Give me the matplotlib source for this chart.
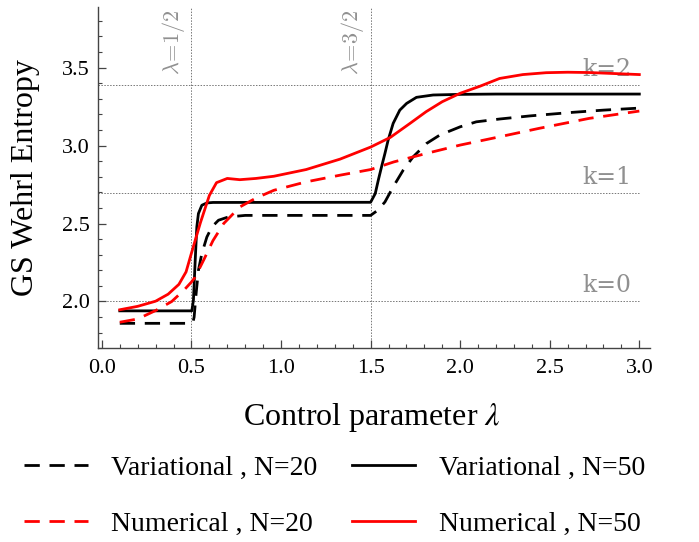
import matplotlib
matplotlib.use("Agg")
import matplotlib.pyplot as plt
from matplotlib.ticker import MultipleLocator

plt.rcParams['font.family'] = ['Liberation Serif', 'DejaVu Serif']
plt.rcParams['mathtext.fontset'] = 'stix'

# variational, N=50 (black solid)
var50_x = [0.1, 0.502, 0.511, 0.521, 0.530, 0.539, 0.558, 0.586, 0.62, 1.5, 1.526, 1.543,
           1.561, 1.58, 1.598, 1.626, 1.663, 1.701, 1.756, 1.849, 2.0, 2.2, 3.0]
var50_y = [1.94, 1.94, 2.006, 2.263, 2.478, 2.564, 2.617, 2.632, 2.635, 2.636, 2.692, 2.778,
           2.863, 2.949, 3.035, 3.142, 3.227, 3.27, 3.309, 3.324, 3.328, 3.33, 3.33]

# variational, N=20 (black dashed)
var20_x = [0.1, 0.5, 0.51, 0.515, 0.526, 0.539, 0.558, 0.586, 0.614, 0.651, 0.706, 0.8, 1.5,
           1.54, 1.58, 1.626, 1.682, 1.737, 1.812, 1.886, 2.0, 2.09, 2.22, 2.39, 2.63, 2.8, 3.0]
var20_y = [1.86, 1.86, 1.875, 1.9, 2.05, 2.2, 2.307, 2.413, 2.478, 2.521, 2.542, 2.552, 2.552,
           2.585, 2.638, 2.735, 2.842, 2.927, 3.013, 3.067, 3.12, 3.152, 3.17, 3.19, 3.213, 3.227, 3.24]

# numerical, N=50 (red solid)
num50_x = [0.1, 0.2, 0.3, 0.37, 0.43, 0.47, 0.5, 0.55, 0.6, 0.64, 0.7, 0.77, 0.86, 0.96, 1.14,
           1.33, 1.5, 1.61, 1.72, 1.81, 1.9, 2.0, 2.11, 2.22, 2.35, 2.48, 2.6, 2.72, 2.85, 3.0]
num50_y = [1.947, 1.969, 2.002, 2.047, 2.11, 2.19, 2.31, 2.505, 2.68, 2.762, 2.789, 2.781, 2.789,
           2.803, 2.846, 2.913, 2.99, 3.052, 3.142, 3.217, 3.281, 3.335, 3.38, 3.43, 3.455, 3.467,
           3.47, 3.468, 3.462, 3.455]

# numerical, N=20 (red dashed)
num20_x = [0.1, 0.2, 0.3, 0.39, 0.46, 0.5, 0.52, 0.57, 0.62, 0.68, 0.77, 0.86, 0.96, 1.14, 1.33,
           1.5, 1.63, 1.81, 2.0, 2.22, 2.44, 2.72, 3.0]
num20_y = [1.867, 1.888, 1.942, 2.0, 2.075, 2.125, 2.155, 2.27, 2.39, 2.5, 2.606, 2.663, 2.713,
           2.767, 2.81, 2.846, 2.895, 2.949, 3.003, 3.056, 3.11, 3.174, 3.221]

k_levels = [2.0, 2.693, 3.386]
k_labels = ['k=0', 'k=1', 'k=2']
crit_x = [0.5, 1.5]
crit_labels = [r'$\lambda\!=\!1/2$', r'$\lambda\!=\!3/2$']

fig = plt.figure(figsize=(6.99, 5.42), dpi=100)
ax = fig.add_axes([0.1406, 0.3574, 0.7894, 0.6302])

dash = (0, (5.5, 3.5))
grid_kw = dict(color='#777777', lw=0.7, ls=(0, (1.5, 1.5)), zorder=1)
for yk, lab in zip(k_levels, k_labels):
    ax.plot([-0.02, 3.0], [yk, yk], **grid_kw)
    ax.text(2.82, yk + 0.03, lab, color='#909090', fontsize=17, ha='center', va='bottom',
            family='DejaVu Serif', zorder=2)
for xc, lab in zip(crit_x, crit_labels):
    ax.axvline(xc, **grid_kw)
    ax.text(xc - 0.025, 3.875, lab, color='#909090', fontsize=16, rotation=90,
            ha='right', va='top', math_fontfamily='cm', zorder=2)

l1, = ax.plot(var20_x, var20_y, color='black', lw=2.0, ls=dash, label='Variational , N=20', zorder=3)
l2, = ax.plot(var50_x, var50_y, color='black', lw=2.0, label='Variational , N=50', zorder=3)
l3, = ax.plot(num20_x, num20_y, color='#ff0000', lw=2.0, ls=dash, label='Numerical , N=20', zorder=4)
l4, = ax.plot(num50_x, num50_y, color='#ff0000', lw=2.0, label='Numerical , N=50', zorder=4)

ax.set_xlim(-0.02, 3.06)
ax.set_ylim(1.7, 3.89)
ax.spines['top'].set_visible(False)
ax.spines['right'].set_visible(False)
for s in ['left', 'bottom']:
    ax.spines[s].set_color('#444444')
    ax.spines[s].set_linewidth(1.0)

ax.xaxis.set_minor_locator(MultipleLocator(0.1))
ax.yaxis.set_minor_locator(MultipleLocator(0.1))
ax.set_xticks([0.0, 0.5, 1.0, 1.5, 2.0, 2.5, 3.0])
ax.set_yticks([2.0, 2.5, 3.0, 3.5])
ax.tick_params(which='both', direction='in', color='#444444', labelsize=16)
ax.tick_params(which='major', length=5.5, width=0.9)
ax.tick_params(which='minor', length=3, width=0.8)
ax.tick_params(axis='x', pad=8)
ax.tick_params(axis='y', pad=6)

ax.set_xlabel(r'Control parameter $\lambda$', fontsize=23)
ax.set_ylabel('GS Wehrl Entropy', fontsize=23)
ax.xaxis.set_label_coords(0.496, -0.155)
ax.yaxis.set_label_coords(-0.105, 0.5)

fig.legend(handles=[l1, l3, l2, l4], ncol=2, loc='upper left', bbox_to_anchor=(0.014, 0.185),
           frameon=False, fontsize=20, handlelength=2.3, handletextpad=0.83,
           columnspacing=1.25, labelspacing=1.1, borderpad=0)

fig.savefig('out.png', dpi=100)
